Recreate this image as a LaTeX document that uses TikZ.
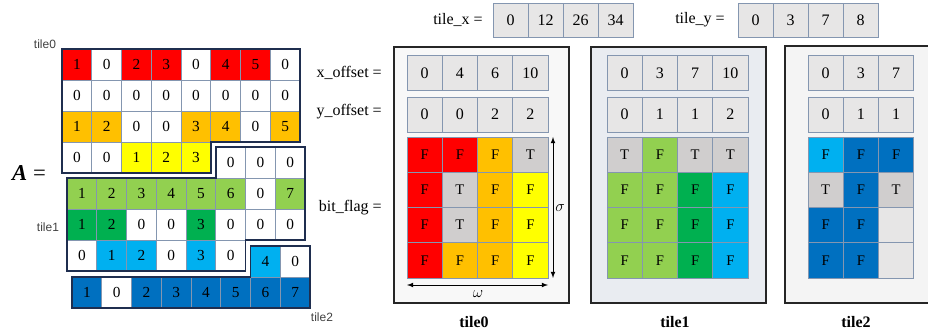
\documentclass[tikz,border=0pt]{standalone}
\usepackage{fontspec}
\setmainfont{Liberation Serif}
\setsansfont{Liberation Sans}
\definecolor{fRed}{HTML}{FF0000}
\definecolor{fOrange}{HTML}{FFC000}
\definecolor{fYellow}{HTML}{FFFF00}
\definecolor{fLgreen}{HTML}{92D050}
\definecolor{fGreen}{HTML}{00B050}
\definecolor{fCyan}{HTML}{00B0F0}
\definecolor{fBlue}{HTML}{0070C0}
\definecolor{fGray}{HTML}{D0CECE}
\definecolor{fEmpty}{HTML}{E7E6E6}
\definecolor{gridc}{HTML}{8496B0}
\definecolor{navy}{HTML}{1F2E4F}
\definecolor{pnlA}{HTML}{F8F8F8}
\definecolor{pnlB}{HTML}{E9ECF1}
\definecolor{pnlC}{HTML}{F4F4F4}

\begin{document}
\begin{tikzpicture}[x=0.75pt, y=-0.75pt,
  mcell/.style={draw=gridc, fill=white, minimum width=22.31pt, minimum height=23.25pt, inner sep=0pt, font=\fontsize{11.5}{13}\selectfont},
  rcell/.style={draw=gridc, fill=fEmpty, minimum width=26.44pt, minimum height=26pt, inner sep=0pt, font=\fontsize{12}{14}\selectfont},
  bcell/.style={draw=gridc, minimum width=26.44pt, minimum height=26.44pt, inner sep=0pt, font=\fontsize{11}{12}\selectfont},
  outline/.style={draw=navy, line width=1.3pt},
  panel/.style={draw=black!85, line width=1.2pt},
  lbl/.style={font=\fontsize{12}{14}\selectfont, inner sep=0pt},
  tlbl/.style={font=\sffamily\fontsize{9}{10}\selectfont, text=black!75, inner sep=0pt},
  tname/.style={font=\bfseries\fontsize{12}{14}\selectfont, inner sep=0pt}]
\useasboundingbox (0,0) rectangle (928,331);

\draw[panel, fill=pnlA] (394,47) rectangle (569,303);
\draw[panel, fill=pnlB] (591,47) rectangle (766,303);
\fill[pnlC] (785,46) rectangle (928,303);
\draw[panel] (928,46) -- (785,46) -- (785,303) -- (928,303);

\node[font=\fontsize{17}{20}\selectfont] (amat) at (29,173) {\textbf{\textit{A}} =};
\node[tlbl] (n0) at (45,44) {tile0};
\node[tlbl] (n1) at (48,227) {tile1};
\node[tlbl] (n2) at (322,317) {tile2};

\foreach \v/\c [count=\i from 0] in {1/fRed,0/white,2/fRed,3/fRed,0/white,4/fRed,5/fRed,0/white}
  \node[mcell, fill=\c] (a0-0-\i) at ({76.875+29.75*\i},64.5) {\v};
\foreach \v/\c [count=\i from 0] in {0/white,0/white,0/white,0/white,0/white,0/white,0/white,0/white}
  \node[mcell, fill=\c] (a0-1-\i) at ({76.875+29.75*\i},95.5) {\v};
\foreach \v/\c [count=\i from 0] in {1/fOrange,2/fOrange,0/white,0/white,3/fOrange,4/fOrange,0/white,5/fOrange}
  \node[mcell, fill=\c] (a0-2-\i) at ({76.875+29.75*\i},126.5) {\v};
\foreach \v/\c [count=\i from 0] in {0/white,0/white,1/fYellow,2/fYellow,3/fYellow}
  \node[mcell, fill=\c] (a0-3-\i) at ({76.875+29.75*\i},157.5) {\v};

\foreach \v/\c [count=\i from 5] in {0/white,0/white,0/white}
  \node[mcell, fill=\c] (a1-0-\i) at ({81.875+29.75*\i},162.5) {\v};
\foreach \v/\c [count=\i from 0] in {1/fLgreen,2/fLgreen,3/fLgreen,4/fLgreen,5/fLgreen,6/fLgreen,0/white,7/fLgreen}
  \node[mcell, fill=\c] (a1-1-\i) at ({81.875+29.75*\i},193.5) {\v};
\foreach \v/\c [count=\i from 0] in {1/fGreen,2/fGreen,0/white,0/white,3/fGreen,0/white,0/white,0/white}
  \node[mcell, fill=\c] (a1-2-\i) at ({81.875+29.75*\i},224.5) {\v};
\foreach \v/\c [count=\i from 0] in {0/white,1/fCyan,2/fCyan,0/white,3/fCyan,0/white}
  \node[mcell, fill=\c] (a1-3-\i) at ({81.875+29.75*\i},255.5) {\v};

\foreach \v/\c [count=\i from 6] in {4/fCyan,0/white}
  \node[mcell, fill=\c] (a2-0-\i) at ({86.875+29.75*\i},261.5) {\v};
\foreach \v/\c [count=\i from 0] in {1/fBlue,0/white,2/fBlue,3/fBlue,4/fBlue,5/fBlue,6/fBlue,7/fBlue}
  \node[mcell, fill=\c] (a2-1-\i) at ({86.875+29.75*\i},292.5) {\v};

\draw[outline] (62,49) -- (300,49) -- (300,142) -- (210.75,142) -- (210.75,173) -- (62,173) -- cycle;
\draw[outline] (215.75,147) -- (305,147) -- (305,240) -- (245.5,240) -- (245.5,271) -- (67,271) -- (67,178) -- (215.75,178) -- cycle;
\draw[outline] (250.5,246) -- (310,246) -- (310,308) -- (72,308) -- (72,277) -- (250.5,277) -- cycle;

\node[lbl, anchor=east] (lx) at (483,20) {tile\_x =};
\foreach \v [count=\i from 0] in {0,12,26,34}
  \node[rcell, minimum height=25.5pt] (tx-\i) at ({510.5+35*\i},20) {\v};
\node[lbl, anchor=east] (ly) at (725,20) {tile\_y =};
\foreach \v [count=\i from 0] in {0,3,7,8}
  \node[rcell, minimum height=25.5pt] (ty-\i) at ({755.5+35*\i},20) {\v};

\node[lbl, anchor=east] (lxo) at (382,73) {x\_offset =};
\node[lbl, anchor=east] (lyo) at (382,112) {y\_offset =};
\node[lbl, anchor=east] (lbf) at (382,208) {bit\_flag =};

\foreach \v [count=\i from 0] in {0,4,6,10}
  \node[rcell] (xo0-\i) at ({424.625+35.25*\i},73) {\v};
\foreach \v [count=\i from 0] in {0,0,2,2}
  \node[rcell] (yo0-\i) at ({424.625+35.25*\i},114.5) {\v};
\foreach \v [count=\i from 0] in {0,3,7,10}
  \node[rcell] (xo1-\i) at ({624.625+35.25*\i},73) {\v};
\foreach \v [count=\i from 0] in {0,1,1,2}
  \node[rcell] (yo1-\i) at ({624.625+35.25*\i},114.5) {\v};
\foreach \v [count=\i from 0] in {0,3,7}
  \node[rcell] (xo2-\i) at ({825.625+35.25*\i},73) {\v};
\foreach \v [count=\i from 0] in {0,1,1}
  \node[rcell] (yo2-\i) at ({825.625+35.25*\i},114.5) {\v};

\foreach \row [count=\r from 0] in {{fRed/F,fRed/F,fOrange/F,fGray/T},{fRed/F,fGray/T,fOrange/F,fYellow/F},{fRed/F,fGray/T,fOrange/F,fYellow/F},{fRed/F,fOrange/F,fOrange/F,fYellow/F}}
  \foreach \c/\v [count=\i from 0] in \row
    \node[bcell, fill=\c] (b0-\r-\i) at ({424.625+35.25*\i},{154.625+35.25*\r}) {\v};
\foreach \row [count=\r from 0] in {{fGray/T,fLgreen/F,fGray/T,fGray/T},{fLgreen/F,fLgreen/F,fGreen/F,fCyan/F},{fLgreen/F,fLgreen/F,fGreen/F,fCyan/F},{fLgreen/F,fLgreen/F,fGreen/F,fCyan/F}}
  \foreach \c/\v [count=\i from 0] in \row
    \node[bcell, fill=\c] (b1-\r-\i) at ({624.625+35.25*\i},{154.625+35.25*\r}) {\v};
\foreach \row [count=\r from 0] in {{fCyan/F,fBlue/F,fBlue/F},{fGray/T,fBlue/F,fGray/T},{fBlue/F,fBlue/F,fEmpty/{}},{fBlue/F,fBlue/F,fEmpty/{}}}
  \foreach \c/\v [count=\i from 0] in \row
    \node[bcell, fill=\c] (b2-\r-\i) at ({825.625+35.25*\i},{154.625+35.25*\r}) {\v};

\coordinate (sTop) at (553,137);
\coordinate (sBot) at (553,278);
\coordinate (wL) at (407,285);
\coordinate (wR) at (548,285);
\draw[<->, >=latex, semithick] (sTop) -- (sBot);
\draw[<->, >=latex, semithick] (wL) -- (wR);
\node[font=\fontsize{13}{14}\selectfont] (sig) at (560,208) {$\sigma$};
\node[font=\fontsize{13}{14}\selectfont] (om) at (478,294) {$\omega$};

\node[tname] (t0) at (474,322) {tile0};
\node[tname] (t1) at (675,322) {tile1};
\node[tname] (t2) at (856,322) {tile2};
\end{tikzpicture}
\end{document}
